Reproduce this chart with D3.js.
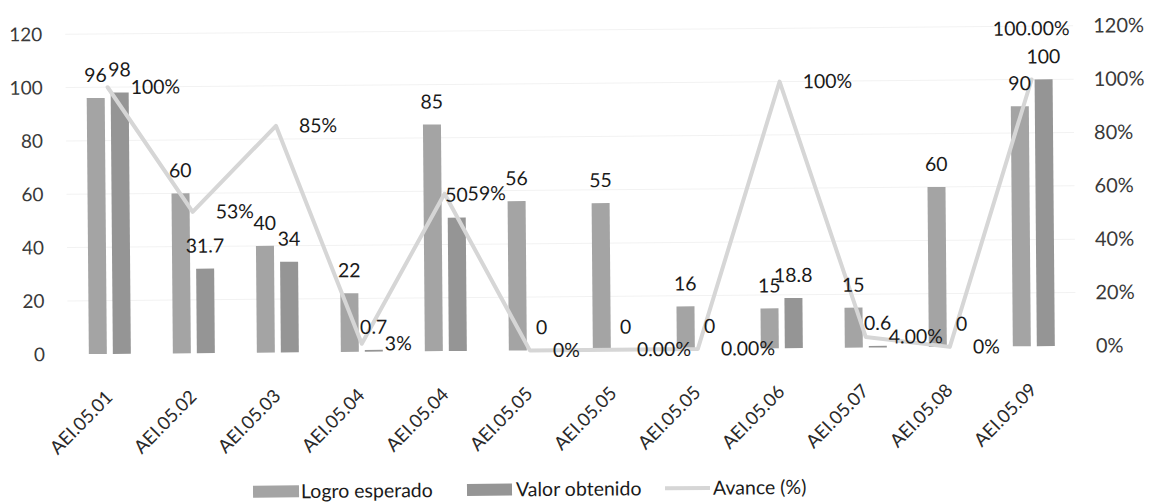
<!DOCTYPE html>
<html>
<head>
<meta charset="utf-8">
<script src="https://cdn.jsdelivr.net/npm/d3@7"></script>
<style>
  html, body { margin: 0; padding: 0; background: #fff; }
  svg { display: block; font-family: Lato, "Open Sans", sans-serif; }
</style>
</head>
<body>
<svg id="chart" width="1152" height="503"></svg>
<script>
const categories = ["AEI.05.01","AEI.05.02","AEI.05.03","AEI.05.04","AEI.05.04","AEI.05.05","AEI.05.05","AEI.05.05","AEI.05.06","AEI.05.07","AEI.05.08","AEI.05.09"];
const logroEsperado = [96, 60, 40, 22, 85, 56, 55, 16, 15, 15, 60, 90];
const valorObtenido = [98, 31.7, 34, 0.7, 50, 0, 0, 0, 18.8, 0.6, 0, 100];
const avance = [1.00, 0.53, 0.85, 0.03, 0.59, 0, 0, 0, 1.00, 0.04, 0, 1.00];
const avanceLabels = ["100%","53%","85%","3%","59%","0%","0.00%","0.00%","100%","4.00%","0%","100.00%"];
const leftTicks = [0, 20, 40, 60, 80, 100, 120];
const rightTicks = [0, 0.2, 0.4, 0.6, 0.8, 1.0, 1.2];
const seriesNames = ["Logro esperado", "Valor obtenido", "Avance (%)"];

const colLogro = "#a4a4a4", colValor = "#959595", colLine = "#d6d6d6";

const svg = d3.select("#chart");
const g = svg.append("g").attr("transform", "rotate(-0.48, 576, 250)");

const x = d3.scaleBand().domain(d3.range(categories.length)).range([67, 1075]).paddingInner(0).paddingOuter(0);
const y = d3.scaleLinear().domain([0, 120]).range([350, 30]);
const y2 = d3.scaleLinear().domain([0, 1.2]).range([350, 30]);
const cx = i => x(i) + x.bandwidth() / 2;
const barW = 18, gap = 3;

// faint gridlines
g.append("g").selectAll("line").data(leftTicks.slice(1)).join("line")
  .attr("x1", 67).attr("x2", 1075)
  .attr("y1", d => y(d)).attr("y2", d => y(d))
  .attr("stroke", "#f2f2f2").attr("stroke-width", 1);

// left axis
const yAxis = d3.axisLeft(y).tickValues(leftTicks).tickSize(0).tickPadding(0);
const ya = g.append("g").attr("transform", "translate(44,0)").call(yAxis);
ya.select(".domain").remove();
ya.selectAll("text").attr("font-size", 19).attr("fill", "#3a3a3a").attr("font-family", "Lato, sans-serif");

// right axis
const y2Axis = d3.axisRight(y2).tickValues(rightTicks).tickSize(0).tickPadding(0).tickFormat(d3.format(".0%"));
const ya2 = g.append("g").attr("transform", "translate(1095,0)").call(y2Axis);
ya2.select(".domain").remove();
ya2.selectAll("text").attr("font-size", 20).attr("fill", "#3a3a3a").attr("font-family", "Lato, sans-serif");

// bars
g.append("g").selectAll("rect").data(logroEsperado).join("rect")
  .attr("x", (d, i) => cx(i) - gap - barW).attr("width", barW)
  .attr("y", d => y(d)).attr("height", d => y(0) - y(d)).attr("fill", colLogro);
g.append("g").selectAll("rect").data(valorObtenido).join("rect")
  .attr("x", (d, i) => cx(i) + gap).attr("width", barW)
  .attr("y", d => y(d)).attr("height", d => y(0) - y(d)).attr("fill", colValor);

// line
const line = d3.line().x((d, i) => cx(i)).y(d => y2(d));
g.append("path").datum(avance).attr("d", line)
  .attr("fill", "none").attr("stroke", colLine).attr("stroke-width", 4)
  .attr("stroke-linejoin", "round").attr("stroke-linecap", "round");

// bar labels
g.append("g").selectAll("text").data(logroEsperado).join("text")
  .attr("x", (d, i) => cx(i) - gap - barW / 2).attr("y", d => y(d) - 16)
  .attr("text-anchor", "middle").attr("font-size", 19.5).attr("fill", "#1a1a1a")
  .text(d => d);
g.append("g").selectAll("text").data(valorObtenido).join("text")
  .attr("x", (d, i) => cx(i) + gap + barW / 2).attr("y", d => y(d) - 16)
  .attr("text-anchor", "middle").attr("font-size", 19.5).attr("fill", "#1a1a1a")
  .text(d => d);

// line labels (right of point; last one above)
const last = avance.length - 1;
g.append("g").selectAll("text").data(avance).join("text")
  .attr("x", (d, i) => i === last ? cx(i) : cx(i) + 23)
  .attr("y", (d, i) => i === last ? y2(d) - 51 : y2(d))
  .attr("dy", "0.35em")
  .attr("text-anchor", (d, i) => i === last ? "middle" : "start")
  .attr("font-size", 19.5).attr("fill", "#1a1a1a")
  .text((d, i) => avanceLabels[i]);

// x labels
g.append("g").selectAll("text").data(categories).join("text")
  .attr("transform", (d, i) => `translate(${cx(i) - 1},390) rotate(-45)`)
  .attr("text-anchor", "end").attr("dy", "0.35em")
  .attr("font-size", 18.5).attr("fill", "#2a2a2a")
  .text(d => d);

// legend
const lg = g.append("g").attr("transform", "translate(0,489)");
lg.append("rect").attr("x", 251).attr("y", -6).attr("width", 46).attr("height", 12).attr("fill", colLogro);
lg.append("text").attr("x", 299).attr("dy", "0.35em").attr("font-size", 19.5).attr("fill", "#1a1a1a").text(seriesNames[0]);
lg.append("rect").attr("x", 465).attr("y", -6).attr("width", 45).attr("height", 12).attr("fill", colValor);
lg.append("text").attr("x", 514).attr("dy", "0.35em").attr("font-size", 19.5).attr("fill", "#1a1a1a").text(seriesNames[1]);
lg.append("line").attr("x1", 663).attr("x2", 708).attr("y1", 0).attr("y2", 0).attr("stroke", colLine).attr("stroke-width", 4);
lg.append("text").attr("x", 711).attr("dy", "0.35em").attr("font-size", 19.5).attr("fill", "#1a1a1a").text(seriesNames[2]);
</script>
</body>
</html>
